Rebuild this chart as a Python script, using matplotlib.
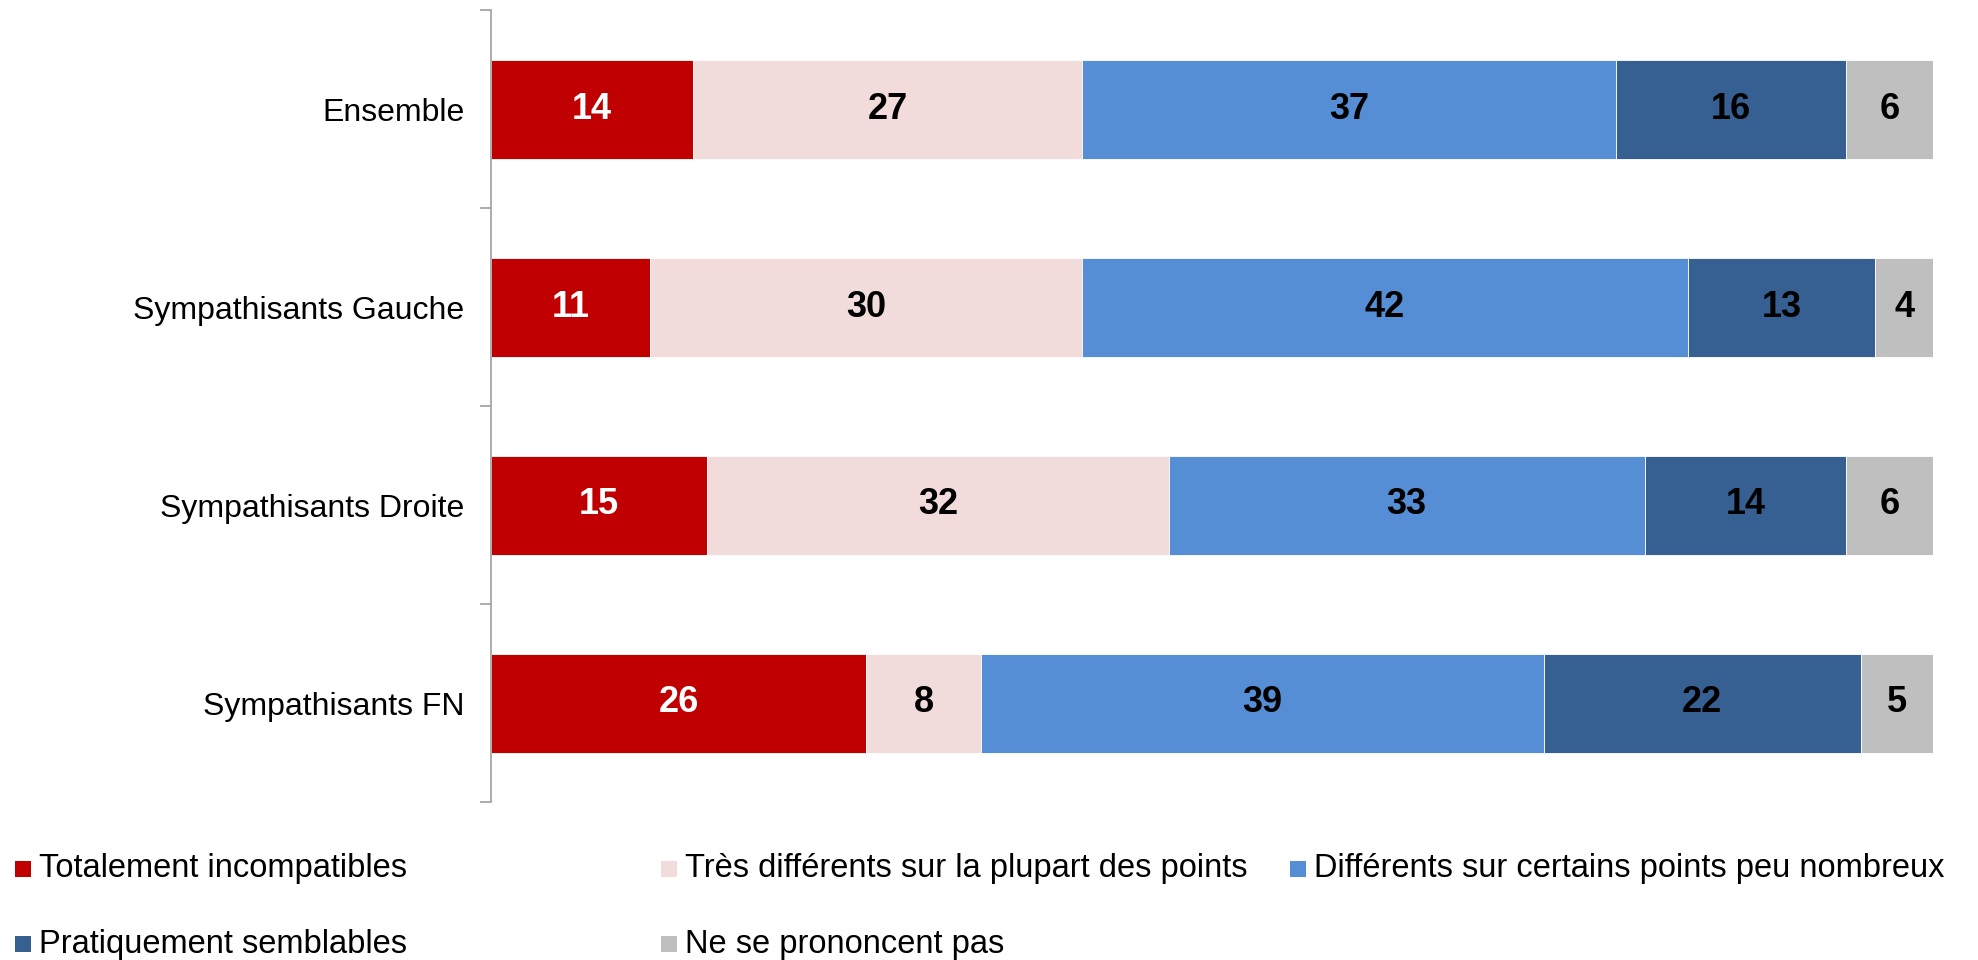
import numpy as np
import matplotlib
matplotlib.use("Agg")
import matplotlib.pyplot as plt
from matplotlib.patches import Rectangle

plt.rcParams['font.family'] = ['Liberation Sans', 'DejaVu Sans']

# Data
categories = ['Ensemble', 'Sympathisants Gauche', 'Sympathisants Droite', 'Sympathisants FN']
series_names = ['Totalement incompatibles',
                'Très différents sur la plupart des points',
                'Différents sur certains points peu nombreux',
                'Pratiquement semblables',
                'Ne se prononcent pas']
totalement = [14, 11, 15, 26]
tres_diff = [27, 30, 32, 8]
diff_certains = [37, 42, 33, 39]
semblables = [16, 13, 14, 22]
nsp = [6, 4, 6, 5]
values = [totalement, tres_diff, diff_certains, semblables, nsp]

colors = ['#C00000', '#F2DCDB', '#558ED5', '#376092', '#BFBFBF']
text_colors = ['white', 'black', 'black', 'black', 'black']

W, H = 1978, 960
fig = plt.figure(figsize=(W / 100, H / 100), dpi=100, facecolor='white')
ax = fig.add_axes([491 / W, 1 - 802 / H, (1933 - 491) / W, (802 - 10) / H])

y = np.arange(len(categories))
left = np.zeros(len(categories))
for vals, col, tcol in zip(values, colors, text_colors):
    bars = ax.barh(y, vals, left=left, height=0.5, color=col,
                   edgecolor='white', linewidth=0.6)
    ax.bar_label(bars, labels=[str(v) for v in vals], label_type='center',
                 color=tcol, fontsize=26, fontweight='bold')
    left += np.array(vals)

ax.set_xlim(0, 100)
ax.set_ylim(len(categories) - 0.5, -0.5)

# axis styling
for s in ['top', 'right', 'bottom']:
    ax.spines[s].set_visible(False)
ax.spines['left'].set_color('#A6A6A6')
ax.spines['left'].set_linewidth(1.3)
ax.set_xticks([])
ax.set_yticks(np.arange(-0.5, len(categories), 1.0))
ax.set_yticklabels([])
ax.set_yticks(y, minor=True)
ax.set_yticklabels(categories, minor=True, fontsize=23)
ax.tick_params(axis='y', which='major', length=8, width=1.3, color='#A6A6A6', direction='out')
ax.tick_params(axis='y', which='minor', length=0, pad=19)

# legend, laid out like the original (3 fixed columns)
col_x = [15, 661, 1290]
row_y = [869, 944]
for i, (name, col) in enumerate(zip(series_names, colors)):
    r, c = divmod(i, 3)
    x0 = col_x[c]
    yc = row_y[r]
    fig.patches.append(Rectangle((x0 / W, 1 - (yc + 8) / H), 16 / W, 16 / H,
                                 transform=fig.transFigure, facecolor=col,
                                 edgecolor='none'))
    fig.text((x0 + 24) / W, 1 - yc / H, name, fontsize=23.5,
             va='center', ha='left', color='black')

fig.savefig('out.png', dpi=100, facecolor='white')
